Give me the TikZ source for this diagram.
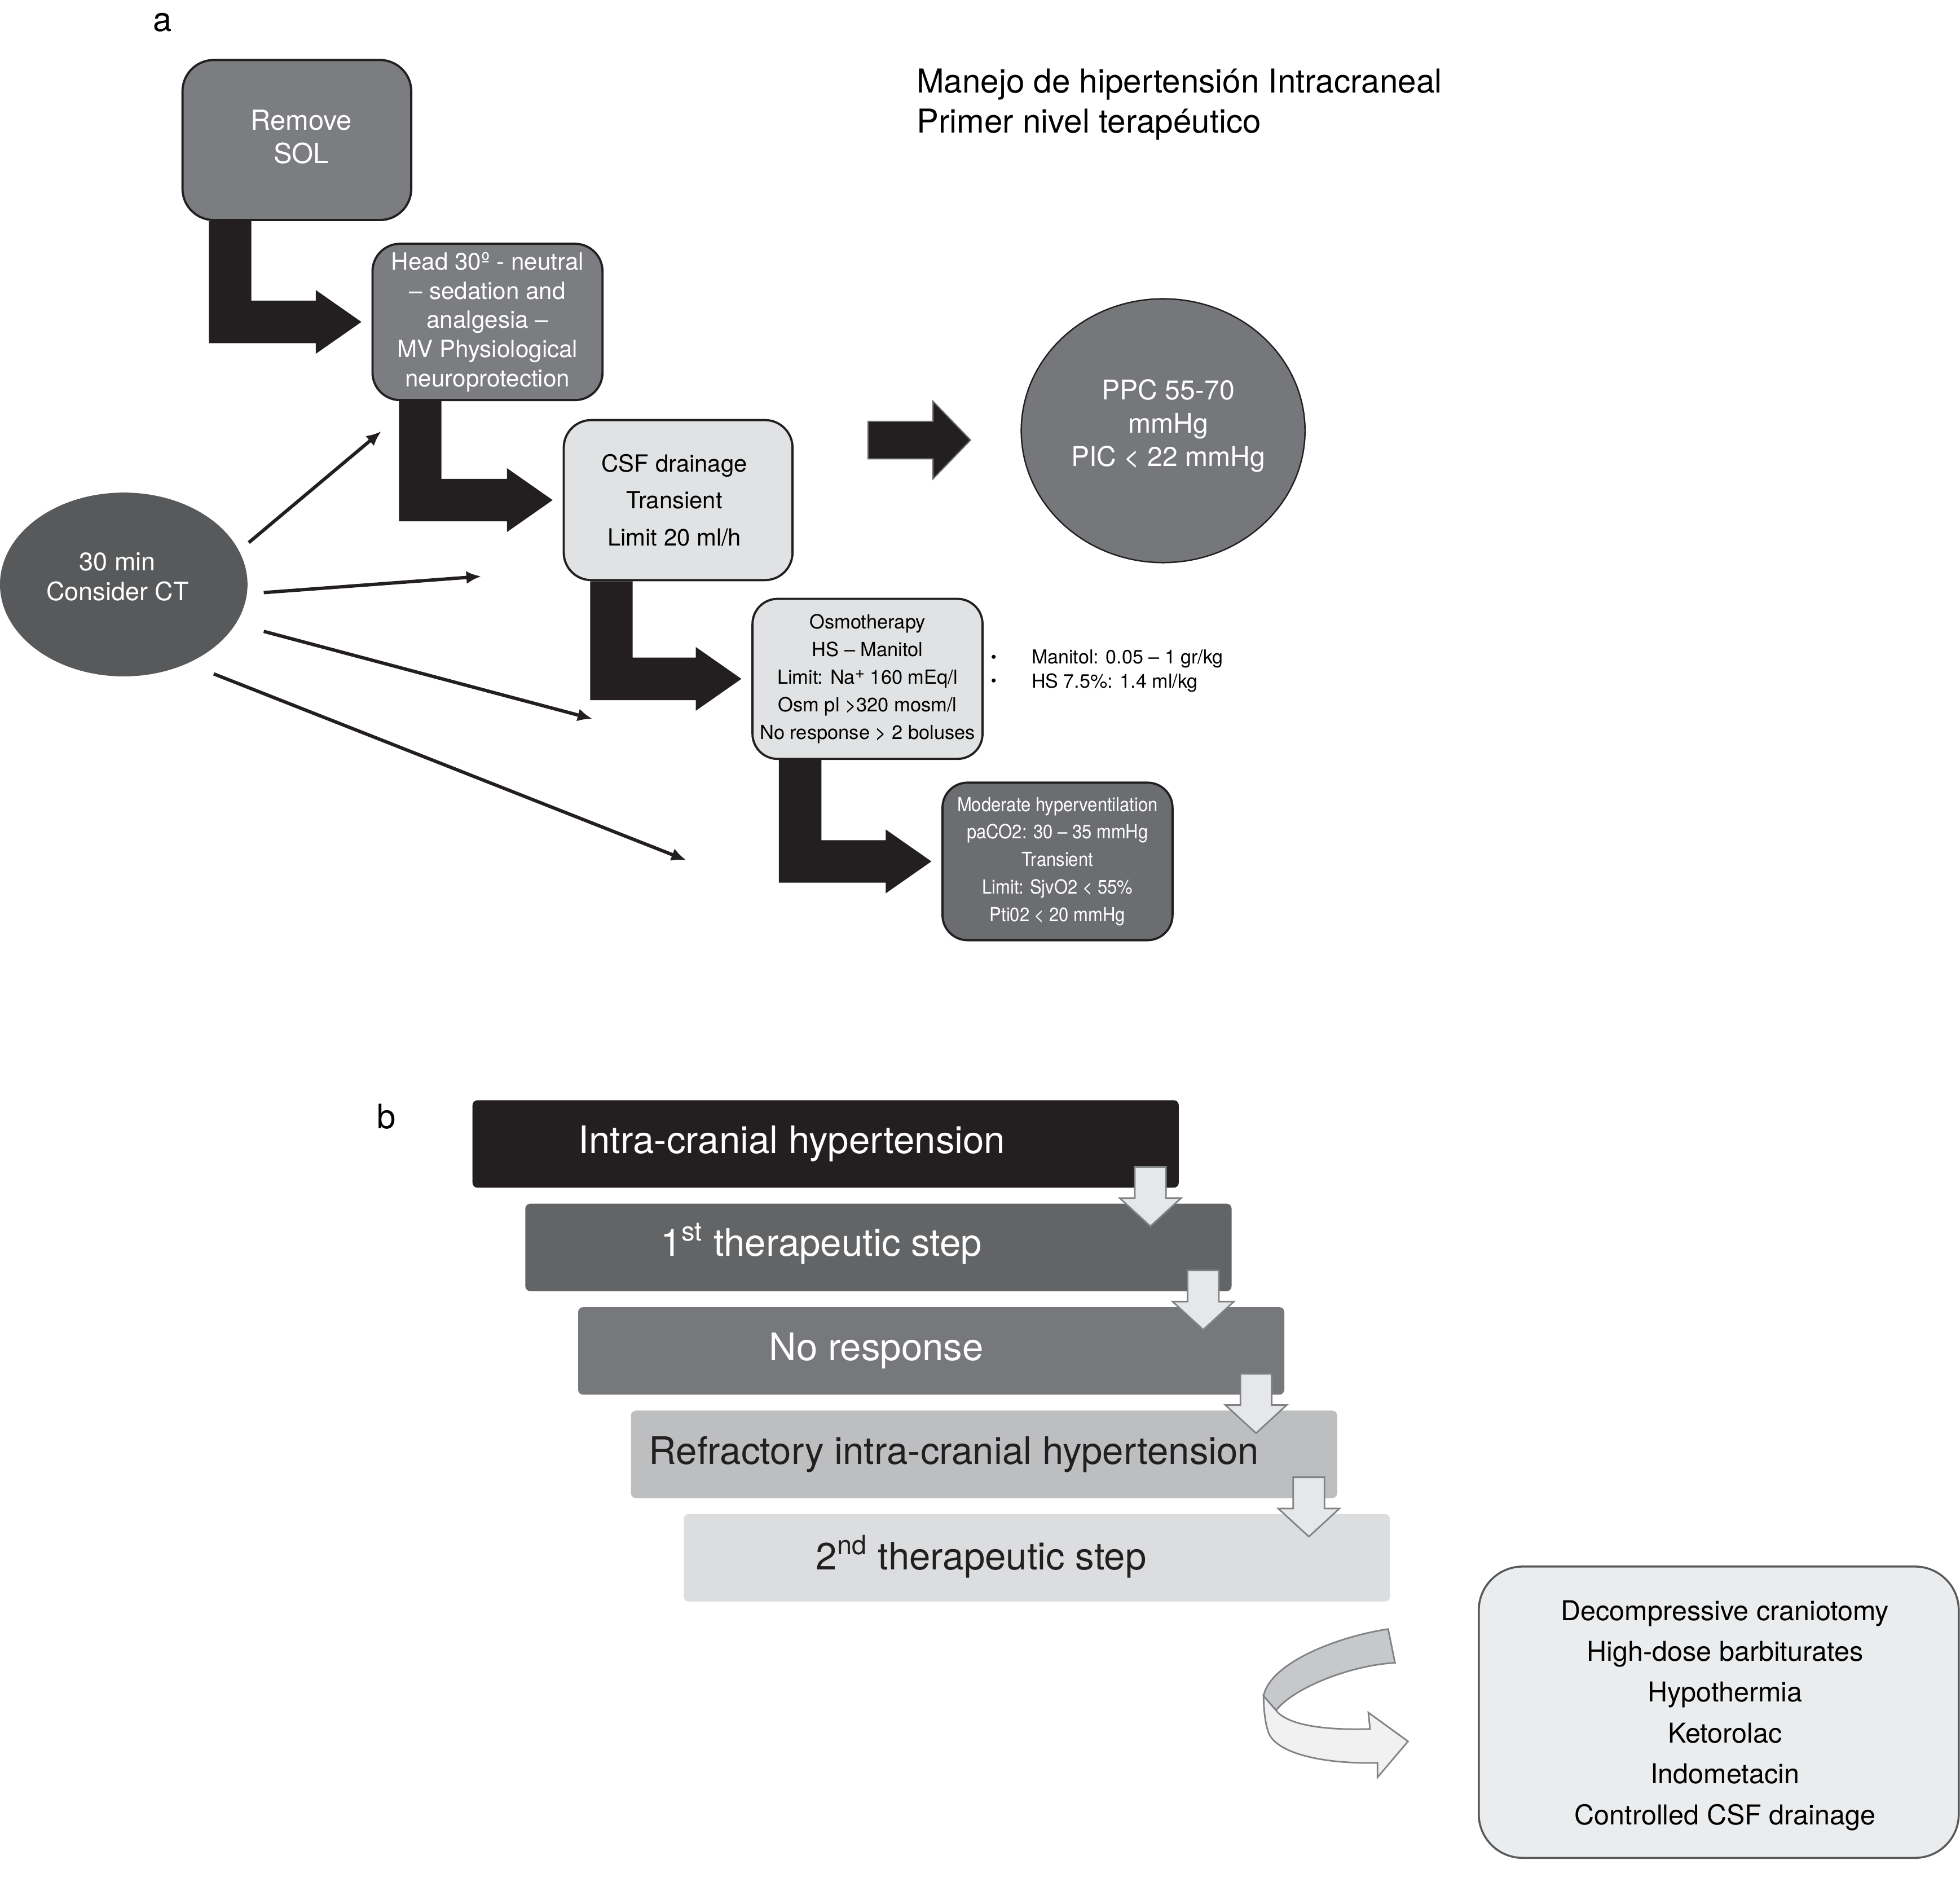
\documentclass[tikz,border=0pt]{standalone}
\usepackage{fontspec}
\setmainfont{TeX Gyre Heros}
\newfontfamily\condfont{TeX Gyre Heros}[FakeStretch=0.9]
\usetikzlibrary{calc,shapes.geometric,arrows.meta}
\definecolor{blk}{HTML}{231F20}
\definecolor{gA}{HTML}{7C7D80}
\definecolor{gMod}{HTML}{6C6D70}
\definecolor{gPPC}{HTML}{76777A}
\definecolor{gCT}{HTML}{58595B}
\definecolor{lt}{HTML}{E1E2E3}
\definecolor{barA}{HTML}{231F20}
\definecolor{barB}{HTML}{636466}
\definecolor{barC}{HTML}{77787B}
\definecolor{barD}{HTML}{BCBEC0}
\definecolor{barE}{HTML}{DCDDDF}
\definecolor{arrf}{HTML}{E6E7E8}
\definecolor{arrd}{HTML}{808285}
\definecolor{ribg}{HTML}{C7C8CA}
\definecolor{ribw}{HTML}{F1F1F2}
\definecolor{rbxf}{HTML}{EBECED}
\newcommand{\pxu}{0.02216cm}
\newcommand{\fs}[2]{\fontsize{#1}{#2}\selectfont}
\tikzset{
  rbox/.style={rounded corners=22*\pxu, draw=blk, line width=1.1pt, align=center, inner sep=0pt},
  barbox/.style={rounded corners=4*\pxu, minimum width=565*\pxu, minimum height=70*\pxu, inner sep=0pt},
  bartext/.style={font=\fs{19.1}{22}, inner sep=0pt},
  thinarr/.style={line width=1.7pt, draw=blk, -{Latex[length=7.5pt,width=6.5pt]}},
  blkarr/.style={fill=blk},
  dnarrow/.style={fill=arrf, draw=arrd, line width=0.8pt},
}
\newcommand{\elbow}[2]{%
  \coordinate (es) at ($(#1.south west)+(22,0)$);
  \coordinate (et) at ($(#2.west)+(-8,0)$);
  \fill[blkarr] (es) -- ++(34,0) -- ($(es|-et)+(34,-17)$) -- ($(et)+(-36.5,-17)$)
    -- ($(et)+(-36.5,-25.5)$) -- (et) -- ($(et)+(-36.5,25.5)$) -- ($(et)+(-36.5,17)$)
    -- ($(es|-et)+(0,17)$) -- cycle;}
\newcommand{\dnarr}[1]{%
  \draw[dnarrow] ($(#1.south east)+(-35.5,-17)$) -- ++(25,0) -- ++(0,25) -- ++(12,0)
    -- ++(-24.5,22.5) -- ++(-24.5,-22.5) -- ++(12,0) -- cycle;}
\begin{document}
\begin{tikzpicture}[x=0.02216cm,y=-0.02216cm]
\useasboundingbox (0,0) rectangle (1568,1501.7);

% ---------- part a ----------
\node[font=\fs{17}{20}] (la) at (130,18) {a};
\node[anchor=west, align=left, font=\fs{16.6}{20.2}, inner sep=0pt] (title) at (733,83.5)
  {Manejo de hipertensión Intracraneal\\Primer nivel terapéutico};

\node[rbox, fill=gA, text=white, minimum width=183*\pxu, minimum height=128*\pxu,
  rounded corners=25*\pxu] (rem) at (237.5,112) {};
\node[text=white, align=center, font=\fs{13.9}{17}, inner sep=0pt] (remt) at ($(rem)+(3.5,-2.5)$) {Remove\\SOL};
\node[rbox, fill=gA, text=white, minimum width=184*\pxu, minimum height=125*\pxu,
  font=\fs{12}{14.7}] (head) at (390,257.5)
  {Head 30º - neutral\\– sedation and\\analgesia –\\MV Physiological\\neuroprotection};
\node[rbox, fill=lt, minimum width=183*\pxu, minimum height=128*\pxu,
  font=\fs{11.9}{18.6}] (csf) at (542.5,400) {};
\node[align=center, font=\fs{11.9}{18.6}, inner sep=0pt] (csft) at ($(csf)+(-3,0)$) {CSF drainage\\Transient\\Limit 20 ml/h};
\node[rbox, fill=lt, minimum width=184*\pxu, minimum height=128*\pxu,
  rounded corners=20*\pxu, font=\fs{9.8}{13.9}] (osm) at (694,543)
  {Osmotherapy\\HS – Manitol\\Limit: Na\raisebox{0.55ex}{\fs{8.5}{10}+} 160 mEq/l\\Osm pl >320 mosm/l\\No response > 2 boluses};
\node[rbox, fill=gMod, text=white, minimum width=184*\pxu, minimum height=126*\pxu,
  rounded corners=20*\pxu, font=\condfont\fs{9.8}{13.9}] (mod) at (846,689)
  {Moderate hyperventilation\\paCO2: 30 – 35 mmHg\\Transient\\Limit: SjvO2 < 55\%\\Pti02 < 20 mmHg};

\node[ellipse, draw=blk, line width=0.7pt, fill=gPPC, minimum width=227*\pxu,
  minimum height=211*\pxu, inner sep=0pt] (ppc) at (930.5,344.5) {};
\node[text=white, align=center, font=\fs{13.7}{16.7}] (ppct) at ($(ppc)+(4,-4)$)
  {PPC 55-70\\mmHg\\PIC < 22 mmHg};

\node[ellipse, fill=gCT, minimum width=198*\pxu, minimum height=147*\pxu,
  inner sep=0pt] (ct) at (99,467.5) {};
\node[text=white, align=center, font=\fs{12.8}{15.1}] (ctt) at ($(ct)+(-5,-6)$)
  {30 min\\Consider CT};

% elbow block arrows
\elbow{rem}{head}
\elbow{head}{csf}
\elbow{csf}{osm}
\elbow{osm}{mod}

% arrow towards PPC
\coordinate (rt) at ($(ppc.west)+(-40,7.5)$);
\filldraw[fill=blk, draw=gMod, line width=0.6pt] ($(rt)+(-82,-15)$) -- ($(rt)+(-30,-15)$)
  -- ($(rt)+(-30,-31)$) -- (rt) -- ($(rt)+(-30,31)$) -- ($(rt)+(-30,15)$)
  -- ($(rt)+(-82,15)$) -- cycle;

% thin arrows from 30 min
\coordinate (e1) at (305,345);
\coordinate (e2) at (385,461);
\coordinate (e3) at (474,575);
\coordinate (e4) at (549,688);
\draw[thinarr] ($(ct)+(100,-33.5)$) -- (e1);
\draw[thinarr] ($(ct)+(112,6.5)$) -- (e2);
\draw[thinarr] ($(ct)+(112,37.5)$) -- (e3);
\draw[thinarr] ($(ct)+(72,71.5)$) -- (e4);

% bullets
\node[font=\fs{8}{10}, inner sep=0pt] (bu1) at (795,527) {•};
\node[font=\fs{8}{10}, inner sep=0pt] (bu2) at (795,546) {•};
\node[anchor=west, font=\fs{9.7}{12}, inner sep=0pt] (man) at (825,527) {Manitol: 0.05 – 1 gr/kg};
\node[anchor=west, font=\fs{9.7}{12}, inner sep=0pt] (hs) at (825,546) {HS 7.5\%: 1.4 ml/kg};

% ---------- part b ----------
\node[font=\fs{17}{20}] (lb) at (309,893) {b};

\node[barbox, fill=barA] (b1) at (660.5,915) {};
\node[barbox, fill=barB] (b2) at (702.75,997.75) {};
\node[barbox, fill=barC] (b3) at (745,1080.5) {};
\node[barbox, fill=barD] (b4) at (787.25,1163.25) {};
\node[barbox, fill=barE] (b5) at (829.5,1246) {};

\node[bartext, text=white] (t1) at ($(b1)+(-27,0)$) {Intra-cranial hypertension};
\node[bartext, text=white] (t2) at ($(b2)+(-45.75,-3)$) {1\textsuperscript{st} therapeutic step};
\node[bartext, text=white] (t3) at ($(b3)+(-44,0)$) {No response};
\node[bartext, text=blk] (t4) at ($(b4)+(-24,0)$) {Refractory intra-cranial hypertension};
\node[bartext, text=blk] (t5) at ($(b5)+(-44.5,-1)$) {2\textsuperscript{nd} therapeutic step};

\dnarr{b1}
\dnarr{b2}
\dnarr{b3}
\dnarr{b4}

% curved ribbon arrow
\filldraw[fill=ribg, draw=arrd, line width=0.8pt] (1110.5,1303)
  .. controls (1070,1309) and (1016,1330) .. (1010.8,1356.6) -- (1020.8,1368)
  .. controls (1035,1350) and (1080,1332) .. (1116,1330) -- cycle;
\filldraw[fill=ribw, draw=arrd, line width=0.8pt] (1010.8,1356.6)
  .. controls (1011,1368) and (1012,1378) .. (1014.9,1386.2)
  .. controls (1022,1403) and (1060,1411) .. (1102,1410) -- (1102,1421.6)
  -- (1126.4,1392.8) -- (1094.7,1369.8) -- (1096,1382.9)
  .. controls (1060,1384) and (1030,1380) .. (1020.8,1368) -- cycle;

\node[rounded corners=35*\pxu, draw=gCT, line width=1pt, fill=rbxf,
  inner sep=0pt, minimum width=384*\pxu, minimum height=233*\pxu] (rx) at (1375,1369.5) {};
\node[align=center, inner sep=0pt, font=\fs{13.8}{20.6}] (rxt) at ($(rx)+(5,2.5)$)
  {Decompressive craniotomy\\High-dose barbiturates\\Hypothermia\\Ketorolac\\Indometacin\\Controlled CSF drainage};
\end{tikzpicture}
\end{document}
